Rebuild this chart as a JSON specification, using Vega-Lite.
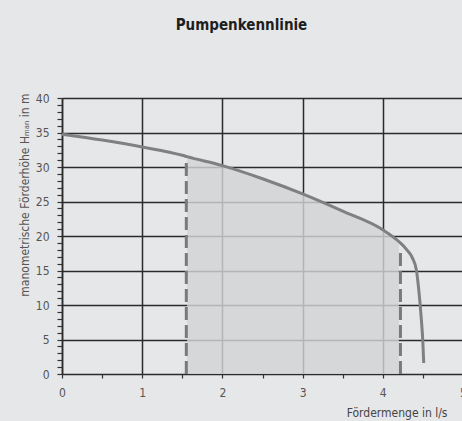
{
  "$schema": "https://vega.github.io/schema/vega-lite/v6.json",
  "width": 401,
  "height": 276,
  "autosize": "none",
  "padding": {"left": 62, "top": 98, "right": 0, "bottom": 47},
  "background": "#e6e7e8",
  "config": {
    "view": {"stroke": null},
    "font": "DejaVu Sans Condensed, Roboto, sans-serif"
  },
  "title": {
    "text": "Pumpenkennlinie",
    "font": "DejaVu Sans Condensed, Roboto, sans-serif",
    "fontSize": 15,
    "fontWeight": "bold",
    "color": "#1e1e1e",
    "anchor": "middle",
    "frame": "group",
    "baseline": "alphabetic",
    "offset": 47,
    "dx": -21
  },
  "datasets": {
    "curve": [
      {"Q": 0, "H": 34.75},
      {"Q": 0.5, "H": 33.9},
      {"Q": 1, "H": 32.9},
      {"Q": 1.5, "H": 31.7},
      {"Q": 1.56, "H": 31.5},
      {"Q": 2, "H": 30.2},
      {"Q": 2.5, "H": 28.3},
      {"Q": 3, "H": 26.1},
      {"Q": 3.5, "H": 23.6},
      {"Q": 4, "H": 20.9},
      {"Q": 4.2, "H": 19.2},
      {"Q": 4.3, "H": 18.0},
      {"Q": 4.37, "H": 16.8},
      {"Q": 4.42, "H": 15.0},
      {"Q": 4.45, "H": 12.0},
      {"Q": 4.48, "H": 8.0},
      {"Q": 4.5, "H": 4.5},
      {"Q": 4.51, "H": 1.6}
    ],
    "limits": [
      {"Q": 1.55, "H": 31.4},
      {"Q": 4.22, "H": 18.2}
    ]
  },
  "encoding": {
    "x": {
      "field": "Q",
      "type": "quantitative",
      "scale": {"domain": [0, 5], "nice": false},
      "axis": {
        "values": [0, 0.5, 1, 1.5, 2, 2.5, 3, 3.5, 4, 4.5, 5],
        "labelExpr": "datum.value % 1 === 0 ? format(datum.value, 'd') : ''",
        "grid": true,
        "gridColor": "#2b2b2b",
        "gridWidth": 1.5,
        "gridOpacity": {"condition": {"test": "datum.value % 1 === 0", "value": 1}, "value": 0},
        "domain": false,
        "tickColor": "#333333",
        "tickSize": 4,
        "tickWidth": 1.2,
        "labelFontSize": 12,
        "labelColor": "#555555",
        "labelPadding": 9,
        "labelFlush": false,
        "title": "Fördermenge in l/s",
        "titleFontSize": 12,
        "titleFontWeight": "normal",
        "titleColor": "#444444",
        "titleAlign": "right",
        "titleAnchor": null,
        "titleX": 385,
        "titleY": 42,
        "titleBaseline": "alphabetic"
      }
    },
    "y": {
      "field": "H",
      "type": "quantitative",
      "scale": {"domain": [0, 40], "nice": false},
      "axis": {
        "values": [0,1,2,3,4,5,6,7,8,9,10,11,12,13,14,15,16,17,18,19,20,21,22,23,24,25,26,27,28,29,30,31,32,33,34,35,36,37,38,39,40],
        "labelExpr": "datum.value % 5 === 0 ? datum.label : ''",
        "grid": true,
        "gridColor": "#2b2b2b",
        "gridWidth": 1.5,
        "gridOpacity": {"condition": {"test": "datum.value % 5 === 0", "value": 1}, "value": 0},
        "domainColor": "#2b2b2b",
        "domainWidth": 1.5,
        "tickColor": "#333333",
        "tickSize": 5,
        "tickWidth": 1.2,
        "labelFontSize": 12,
        "labelColor": "#555555",
        "labelPadding": 8,
        "labelFlush": false,
        "title": "manometrische Förderhöhe  Hₘₐₙ in m",
        "titleFontSize": 12,
        "titleFontWeight": "normal",
        "titleColor": "#555555",
        "titleAngle": -90,
        "titleAlign": "right",
        "titleAnchor": null,
        "titleBaseline": "middle",
        "titleX": -38,
        "titleY": -5
      }
    }
  },
  "layer": [
    {
      "data": {"name": "curve"},
      "transform": [{"filter": "datum.Q >= 1.56 && datum.Q <= 4.2"}],
      "mark": {"type": "area", "color": "#d2d3d5", "opacity": 0.82, "interpolate": "monotone"}
    },
    {
      "data": {"name": "limits"},
      "mark": {"type": "rule", "color": "#7a7a7a", "strokeWidth": 3, "strokeDash": [13, 5]},
      "encoding": {
        "y": {"datum": 0},
        "y2": {"field": "H"}
      }
    },
    {
      "data": {"name": "curve"},
      "mark": {"type": "line", "color": "#808080", "strokeWidth": 3, "interpolate": "monotone"}
    }
  ]
}
